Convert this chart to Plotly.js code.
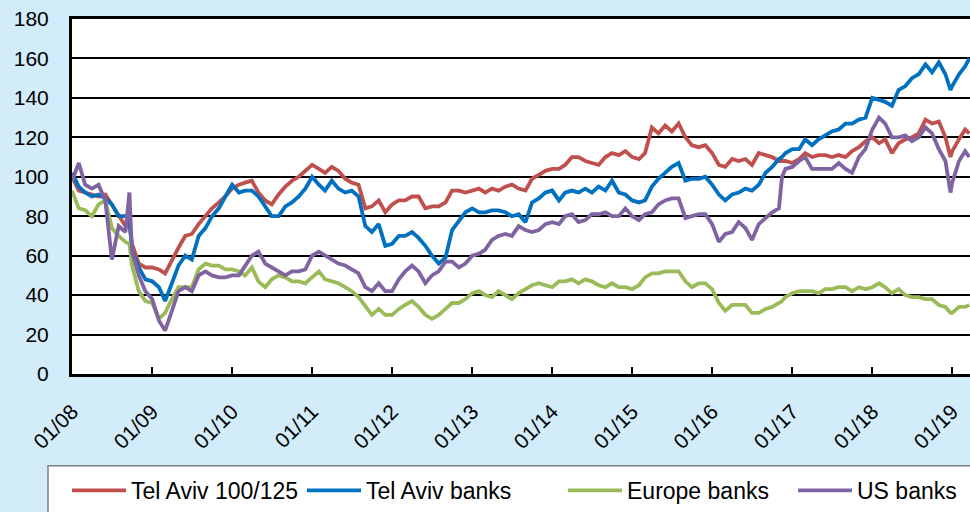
<!DOCTYPE html>
<html><head><meta charset="utf-8">
<script src="https://cdn.plot.ly/plotly-3.0.1.min.js"></script>
<style>html,body{margin:0;padding:0;background:rgb(211,236,249);overflow:hidden;width:970px;height:512px}#chart{width:975px;height:512px}</style>
</head><body><div id="chart"></div><script>
// Monthly readings (first of each month, Jan 2008 .. Mar 2019) + last point
const startYear = 2008;
const lastDate = '2019-03-20';
const telAviv100 = [
 100,93,92,91,90,91,86,80,75,66,56,54,
 54,53,51,58,64,70,71,76,80,84,87,90,
 94,96,97,98,92,88,86,91,95,98,100,103,
 106,104,102,105,103,99,97,96,84,85,88,82,
 86,88,88,90,90,84,85,85,87,93,93,92,
 93,94,92,94,93,95,96,94,93,99,101,103,
 104,104,106,110,110,108,107,106,110,112,111,113,
 110,109,112,125,122,126,123,127,120,116,115,116,
 112,106,105,109,108,109,106,112,111,110,108,108,
 107,109,112,110,111,111,110,111,110,113,115,118,
 120,117,119,112,117,119,120,122,129,127,128,120,
 113,119,124,122];
const telAvivBanks = [
 102,95,92,90,91,89,86,80,80,62,54,48,
 47,44,37,46,55,60,58,70,74,80,84,90,
 96,92,93,93,90,85,80,80,85,87,90,94,
 100,96,93,98,94,92,93,90,75,72,76,65,
 66,70,70,72,69,65,60,56,59,73,78,82,
 84,82,82,83,83,82,80,81,77,87,89,92,
 93,88,92,93,92,94,92,95,93,98,92,91,
 88,87,88,95,99,102,105,107,98,99,99,100,
 96,91,88,91,92,94,93,96,102,105,109,112,
 114,114,119,116,119,121,123,124,127,127,129,130,
 140,139,138,136,144,146,150,152,157,153,158,152,
 146,152,156,160];
const europeBanks = [
 93,84,83,80,86,88,74,70,67,55,42,37,
 36,28,31,38,44,44,44,53,56,55,55,53,
 53,52,50,54,47,44,48,50,49,47,47,46,
 49,52,48,47,46,44,42,39,34,30,33,30,
 30,33,35,37,34,30,28,30,33,36,36,38,
 41,42,40,39,42,40,38,41,43,45,46,45,
 44,47,47,48,46,48,47,45,44,46,44,44,
 43,45,49,51,51,52,52,52,47,44,46,46,
 43,36,32,35,35,35,31,31,33,34,36,39,
 41,42,42,42,41,43,43,44,44,42,44,43,
 44,46,44,41,43,40,39,39,38,38,35,34,
 31,34,34,35];
const usBanks = [
 98,107,96,94,96,88,58,75,72,62,50,42,
 38,27,22,32,42,44,42,50,52,50,49,49,
 50,50,55,60,62,56,54,52,50,52,52,53,
 60,62,60,58,56,55,53,51,44,42,46,42,
 42,48,52,55,52,46,50,52,57,57,54,56,
 60,61,63,68,70,71,70,75,73,72,73,76,
 77,76,80,81,77,78,81,81,82,80,80,84,
 80,78,81,82,86,88,89,89,79,80,81,81,
 76,67,71,72,77,74,68,76,79,82,84,104,
 105,108,110,104,104,104,104,107,104,102,110,114,
 124,130,127,120,120,121,118,120,125,122,114,108,
 97,108,113,110];
// Extra readings at short-lived extremes
const extraDates = ['2008-09-19','2016-11-15','2018-12-24'];
const extraTelAviv100 = [76,108,110];
const extraTelAvivBanks = [79,110,144];
const extraEuropeBanks = [66,37,31];
const extraUsBanks = [92,100,92];

const tickLabels = ['01/08','01/09','01/10','01/11','01/12','01/13','01/14','01/15','01/16','01/17','01/18','01/19'];
const tickDates = tickLabels.map(function(t){return '20'+t.slice(3)+'-01-01';});
const seriesNames = ['Tel Aviv 100/125','Tel Aviv banks','Europe banks','US banks'];
const seriesColors = ['#C0504D','#0070C0','#9BBB59','#8064A2'];

function monthDates(n){
  const d=[];
  for(let i=0;i<n;i++){
    const y=startYear+Math.floor(i/12), m=i%12+1;
    d.push(y+'-'+(m<10?'0':'')+m+'-01');
  }
  return d;
}
function build(vals, extras){
  const n=vals.length-1;
  const ds=monthDates(n).concat([lastDate]);
  const pts=ds.map(function(d,i){return [d,vals[i]];});
  extraDates.forEach(function(d,i){pts.push([d,extras[i]]);});
  pts.sort(function(a,b){return a[0]<b[0]?-1:a[0]>b[0]?1:0;});
  return {x:pts.map(p=>p[0]), y:pts.map(p=>p[1])};
}
const allVals=[telAviv100,telAvivBanks,europeBanks,usBanks];
const allExtras=[extraTelAviv100,extraTelAvivBanks,extraEuropeBanks,extraUsBanks];
const legendIds=['legend','legend2','legend3','legend4'];
const traces=allVals.map(function(v,i){
  const b=build(v,allExtras[i]);
  return {type:'scatter',mode:'lines',x:b.x,y:b.y,name:seriesNames[i],
    line:{color:seriesColors[i],width:3.8},legend:legendIds[i],hoverinfo:'skip'};
});

const W=903, H=356, L=72, T=19;
function px(x){return (x-L)/W;}
function py(y){return (T+H-y)/H;}
const legendX=[67,302,563,793];
const layout={
  width:975,height:512,autosize:false,
  margin:{l:L,r:0,t:T,b:512-T-H,pad:0},
  paper_bgcolor:'rgb(211,236,249)',plot_bgcolor:'#ffffff',
  font:{family:'Liberation Sans, Arial, sans-serif',size:20,color:'#000'},
  xaxis:{type:'date',range:['2008-01-01','2019-04-15'],tickmode:'array',tickvals:tickDates,ticktext:tickLabels,
    tickangle:-45,ticks:'inside',ticklen:7,tickwidth:2,tickcolor:'#000',showline:true,linewidth:3,linecolor:'#000',
    mirror:true,showgrid:false,zeroline:false,tickfont:{size:21},ticklabelstandoff:14,fixedrange:true},
  yaxis:{range:[0,180],tick0:0,dtick:20,showgrid:true,gridcolor:'#000',gridwidth:2,showline:true,linewidth:3,
    linecolor:'#000',zeroline:false,ticks:'',tickfont:{size:21},ticklabelstandoff:16,fixedrange:true},
  showlegend:true,
  shapes:[{type:'rect',xref:'paper',yref:'paper',x0:px(48),x1:px(1000),y0:py(467),y1:py(560),
    fillcolor:'#ffffff',line:{color:'#7f7f7f',width:1.5},layer:'below'}]
};
legendIds.forEach(function(id,i){
  layout[id]={x:px(legendX[i]),y:py(492),xanchor:'left',yanchor:'middle',orientation:'h',
    bgcolor:'rgba(0,0,0,0)',borderwidth:0,font:{size:23,color:'#000'},itemwidth:54};
});
Plotly.newPlot('chart',traces,layout,{staticPlot:true,displayModeBar:false});
</script></body></html>
